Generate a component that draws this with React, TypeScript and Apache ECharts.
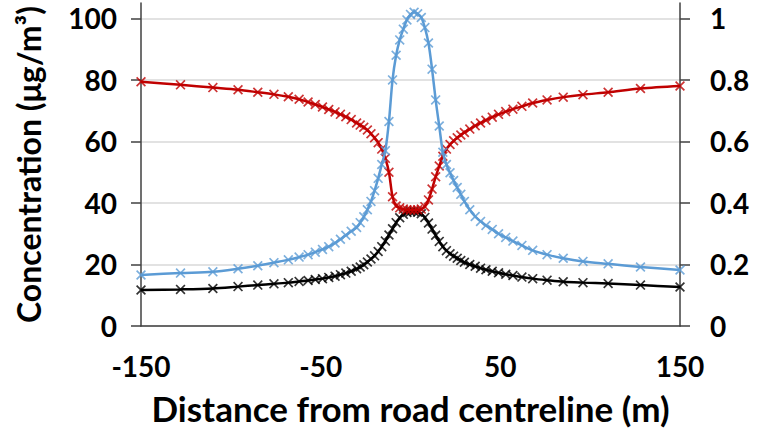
import React, { useEffect, useRef } from "react";
import * as echarts from "echarts";

const distances = [-150, -128, -110, -96, -85, -76, -68, -62, -57, -53, -49, -45.5, -42, -39, -36, -33,
  -30, -28, -26, -24, -22, -20, -18, -16, -14, -12, -10, -8, -6, -4, -2, 0, 2, 4, 6, 8, 10, 12, 14, 16, 18, 20, 22, 24, 26, 28, 30,
  33, 36, 39, 42, 45.5, 49, 53, 57, 62, 68, 76, 85, 96, 110, 128, 150];

const blueConc = [16.6, 17.2, 17.6, 18.6, 19.6, 20.6, 21.5, 22.4, 23.2, 24.0, 24.9, 25.8, 27.0, 28.2, 29.5, 30.8,
  32.0, 33.6, 35.5, 37.8, 40.5, 44.0, 48.0, 52.5, 57.0, 66.5, 80.0, 88.0, 93.0, 96.5, 99.5, 101.3, 102.0, 101.5, 100.3, 97.0, 92.0, 83.5, 73.5, 65.0, 56.5, 52.5, 49.8, 47.3, 45.0, 42.8, 40.5,
  37.8, 35.6, 34.0, 32.7, 31.4, 30.0, 28.8, 27.6, 26.2, 24.6, 23.2, 22.0, 21.0, 20.2, 19.2, 18.2];

const redRatio = [0.794, 0.784, 0.775, 0.768, 0.760, 0.753, 0.745, 0.737, 0.728, 0.720, 0.712, 0.704, 0.696, 0.688, 0.680, 0.671,
  0.660, 0.653, 0.646, 0.637, 0.625, 0.612, 0.596, 0.575, 0.545, 0.500, 0.420, 0.390, 0.384, 0.380, 0.378, 0.377, 0.377, 0.378, 0.380, 0.388, 0.410, 0.445, 0.485, 0.520, 0.552, 0.575, 0.590, 0.602, 0.612, 0.621, 0.629,
  0.640, 0.651, 0.660, 0.669, 0.679, 0.688, 0.697, 0.705, 0.714, 0.725, 0.735, 0.744, 0.752, 0.760, 0.772, 0.780];

const blackConc = [11.7, 11.9, 12.2, 12.8, 13.3, 13.7, 14.1, 14.5, 14.8, 15.1, 15.4, 15.8, 16.2, 16.7, 17.2, 17.8,
  18.6, 19.2, 19.9, 20.8, 21.8, 22.8, 24.2, 25.8, 27.6, 29.6, 31.6, 33.6, 35.2, 36.3, 36.9, 37.1, 37.2, 37.0, 36.5, 35.3, 33.5, 31.5, 29.5, 27.5, 25.8, 24.5, 23.5, 22.7, 22.0, 21.3, 20.7,
  20.0, 19.4, 18.8, 18.3, 17.8, 17.3, 16.8, 16.4, 15.9, 15.4, 14.9, 14.4, 14.1, 13.8, 13.3, 12.7];

const xTickLabels = [-150, -50, 50, 150];
const leftTickValues = [0, 20, 40, 60, 80, 100];
const rightTickValues = [0, 0.2, 0.4, 0.6, 0.8, 1];

const X_SYMBOL = "path://M0,1.2L1.2,0L5,3.8L8.8,0L10,1.2L6.2,5L10,8.8L8.8,10L5,6.2L1.2,10L0,8.8L3.8,5Z";
const FONT = "Lato, 'Open Sans', sans-serif";

export default function App() {
  const ref = useRef<HTMLDivElement>(null);
  useEffect(() => {
    if (!ref.current) return;
    const chart = echarts.init(ref.current, undefined, { renderer: "svg" });
    const mk = (name: string, vals: number[], color: string, yAxisIndex: number, z: number) => ({
      name,
      type: "line",
      yAxisIndex,
      z,
      smooth: 0.3,
      clip: false,
      data: distances.map((d, i) => [d, vals[i]]),
      symbol: X_SYMBOL,
      symbolSize: 10,
      showSymbol: true,
      lineStyle: { color, width: 2.5 },
      itemStyle: { color, opacity: 0.8 },
    });
    const axisLineStyle = { show: true, onZero: false, lineStyle: { color: "#404040", width: 1.5 } };
    const tickStyle = { color: "#404040", width: 1.5 };
    chart.setOption({
      animation: false,
      backgroundColor: "#ffffff",
      grid: { left: 141, right: 90, top: 3, bottom: 116 },
      xAxis: {
        type: "value",
        min: -150,
        max: 150,
        interval: 50,
        name: "Distance from road centreline (m)",
        nameLocation: "middle",
        nameGap: 64,
        nameTextStyle: { fontFamily: FONT, fontWeight: "bold", fontSize: 35, color: "#000" },
        axisLine: axisLineStyle,
        axisTick: { show: false },
        splitLine: { show: false },
        axisLabel: {
          margin: 26,
          fontFamily: FONT,
          fontWeight: "bold",
          fontSize: 28,
          color: "#000",
          formatter: (v: number) => (xTickLabels.includes(v) ? String(v) : ""),
        },
      },
      yAxis: [
        {
          type: "value",
          min: 0,
          max: 105,
          interval: 20,
          name: "Concentration (μg/m³)",
          nameLocation: "middle",
          nameGap: 97,
          nameTextStyle: { fontFamily: FONT, fontWeight: "bold", fontSize: 32, color: "#000" },
          axisLine: axisLineStyle,
          axisTick: { show: true, length: 10, lineStyle: tickStyle, customValues: leftTickValues },
          splitLine: { show: true, lineStyle: { color: "#d9d9d9", width: 1.5 } },
          axisLabel: {
            margin: 24,
            fontFamily: FONT,
            fontWeight: "bold",
            fontSize: 28,
            color: "#000",
            customValues: leftTickValues,
            formatter: (v: number) => (leftTickValues.includes(v) ? String(v) : ""),
          },
        },
        {
          type: "value",
          min: 0,
          max: 1.05,
          interval: 0.2,
          position: "right",
          axisLine: axisLineStyle,
          axisTick: { show: true, length: 10, lineStyle: tickStyle, customValues: rightTickValues },
          splitLine: { show: false },
          axisLabel: {
            margin: 30,
            fontFamily: FONT,
            fontWeight: "bold",
            fontSize: 28,
            color: "#000",
            customValues: rightTickValues,
            formatter: (v: number) => String(parseFloat(v.toFixed(1))),
          },
        },
      ],
      series: [
        mk("Black", blackConc, "#000000", 0, 2),
        mk("Red", redRatio, "#C00000", 1, 3),
        mk("Blue", blueConc, "#5B9BD5", 0, 4),
      ],
    });
    return () => chart.dispose();
  }, []);
  return <div ref={ref} style={{ position: "fixed", left: 0, top: 0, width: 770, height: 442 }} />;
}
